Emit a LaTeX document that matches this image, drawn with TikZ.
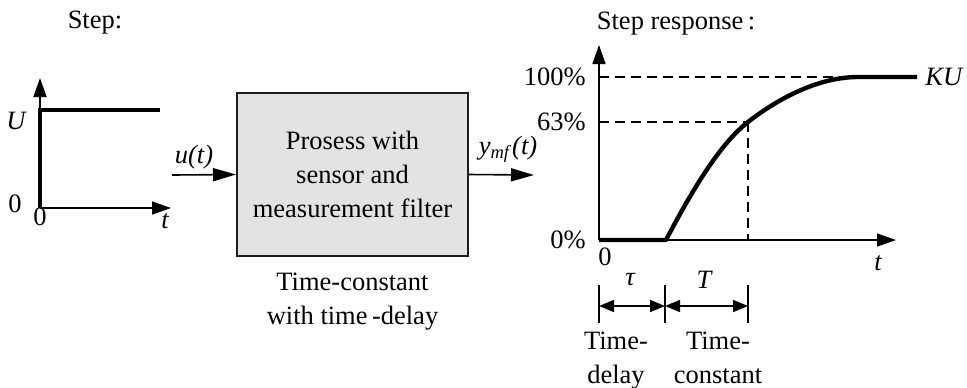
\documentclass[tikz,border=0pt]{standalone}
\usepackage{fontspec}
\setmainfont{Liberation Serif}
\usetikzlibrary{arrows.meta}
\definecolor{boxfill}{HTML}{E3E3E3}
\definecolor{boxedge}{HTML}{1E1E1E}

\begin{document}
\begin{tikzpicture}[x=0.5pt,y=-0.5pt,
  font=\fontsize{13.25}{16.9}\selectfont,
  axis/.style={line width=0.8pt,-{Triangle[length=9.5pt,width=6.5pt]}},
  signal/.style={line width=0.8pt,-{Triangle[length=11.5pt,width=6.5pt]}},
  dimline/.style={line width=0.8pt,{Triangle[length=7.5pt,width=6pt]}-{Triangle[length=7.5pt,width=6pt]}},
  tick/.style={line width=0.8pt},
  heavy/.style={line width=2.2pt},
  guide/.style={line width=1.3pt,dash pattern=on 5pt off 3pt},
  lbl/.style={inner sep=0pt},
  block/.style={draw=boxedge,line width=1pt,fill=boxfill,
    minimum width=115.5pt,minimum height=81.5pt,align=center,inner sep=0pt},
]
\useasboundingbox (0,0) rectangle (967,387);

% ---------- input step ----------
\node[lbl,anchor=base] (steptitle) at (95,28) {Step:};
\coordinate (o1) at (40,208);
\coordinate (y1) at (40,78);
\coordinate (x1) at (171,208);
\draw[axis] (o1) -- (y1);
\draw[axis] (o1) -- (x1);
\draw[heavy] (o1) -- (40,110) -- (160,110);
\node[lbl] (Ulab) at (16,121) {\itshape U};
\node[lbl] (zl) at (15,204) {0};
\node[lbl] (zb) at (40,217) {0};
\node[lbl] (t1) at (165,221) {\itshape t};

% ---------- process block ----------
\node[block] (proc) at (352.5,174.5) {Prosess with\\sensor and\\measurement filter};
\coordinate (uin) at (172,175);
\coordinate (yout) at (534,175);
\draw[signal] (uin) -- (proc.west);
\draw[signal] (proc.east) -- (yout);
\node[lbl] (ulab) at (194,157) {\itshape u(t)};
\node[lbl] (ylab) at (508,149) {\textit{y}\textsubscript{\textit{mf}}\textit{(t)}};
% multi-line nodes: 'base' sits on the last line
\node[lbl,anchor=base,align=center] (proccap) at (352.5,324)
  {Time-constant\\with time\,-delay};

% ---------- step response ----------
\node[lbl,anchor=base] (resptitle) at (676,29) {Step response\,:};
\coordinate (o2) at (599,240);
\coordinate (y2) at (599,45);
\coordinate (x2) at (896,240);
\coordinate (p0) at (666,240);
\coordinate (p63) at (748,122);
\coordinate (p100) at (858,77);
\coordinate (pend) at (917,77);
\draw[guide] (599,77) -- (846,77);
\draw[guide] (599,122) -- (p63);
\draw[guide] (p63) -- (748,240);
\draw[axis] (o2) -- (y2);
\draw[axis] (o2) -- (x2);
\draw[heavy,line join=round] (o2) -- (p0)
  .. controls (700,175) and (725,140) .. (p63)
  .. controls (780,97) and (820,77) .. (p100) -- (pend);
\node[lbl,anchor=east] (l100) at (586,77) {100\%};
\node[lbl,anchor=east] (l63) at (586,122) {63\%};
\node[lbl,anchor=east] (l0) at (586,240) {0\%};
\node[lbl] (z2) at (605,257) {0};
\node[lbl] (t2) at (878,263) {\itshape t};
\node[lbl,anchor=west] (KU) at (925,77) {\itshape KU};

% ---------- time-delay and time-constant spans ----------
\coordinate (ta) at (599,306);
\coordinate (tb) at (665,306);
\coordinate (tc) at (748,306);
\draw[tick] (599,285) -- (599,323);
\draw[tick] (665,285) -- (665,323);
\draw[tick] (748,285) -- (748,323);
\draw[dimline] (ta) -- (tb);
\draw[dimline] (tb) -- (tc);
\node[lbl] (taulab) at (630,280) {\itshape τ};
\node[lbl] (Tlab) at (704,280) {\itshape T};
\node[lbl,anchor=base,align=center] (delaycap) at (616,383) {Time-\\delay};
\node[lbl,anchor=base,align=center] (constcap) at (718,383) {Time-\\constant};
\end{tikzpicture}
\end{document}
